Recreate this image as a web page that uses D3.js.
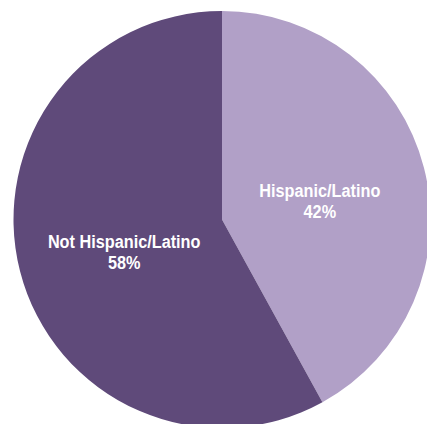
<!DOCTYPE html>
<html>
<head>
<meta charset="utf-8">
<script src="https://cdn.jsdelivr.net/npm/d3@7"></script>
<style>
  html, body { margin: 0; padding: 0; background: #ffffff; }
  svg { display: block; }
</style>
</head>
<body>
<svg id="chart" width="427" height="424"></svg>
<script>
const categories = ["Hispanic/Latino", "Not Hispanic/Latino"];
const values = [42, 58];
const labels = ["42%", "58%"];
const colors = ["#B1A0C7", "#5F4A7A"];

const svg = d3.select("#chart");
const cx = 222, cy = 219.5, R = 208.5;
const g = svg.append("g").attr("transform", `translate(${cx},${cy})`);

const data = categories.map((c, i) => ({ category: c, value: values[i], label: labels[i], color: colors[i] }));

const pie = d3.pie().value(d => d.value).sort(null);
const arc = d3.arc().innerRadius(0).outerRadius(R);
const labelArc = d3.arc().innerRadius(101).outerRadius(101);

const arcs = pie(data);

g.selectAll("path.slice")
  .data(arcs)
  .join("path")
  .attr("class", "slice")
  .attr("d", arc)
  .attr("fill", d => d.data.color);

const txt = g.selectAll("text.lbl")
  .data(arcs)
  .join("text")
  .attr("class", "lbl")
  .attr("transform", d => { const [x, y] = labelArc.centroid(d); return `translate(${x},${y}) scale(0.93,1)`; })
  .attr("text-anchor", "middle")
  .attr("fill", "#ffffff")
  .style("font-family", "'Liberation Sans', Arial, sans-serif")
  .style("font-weight", "bold")
  .style("font-size", "17.5px");

txt.append("tspan").attr("x", 0).attr("y", 3).text(d => d.data.category);
txt.append("tspan").attr("x", 0).attr("y", 24).text(d => d.data.label);
</script>
</body>
</html>
